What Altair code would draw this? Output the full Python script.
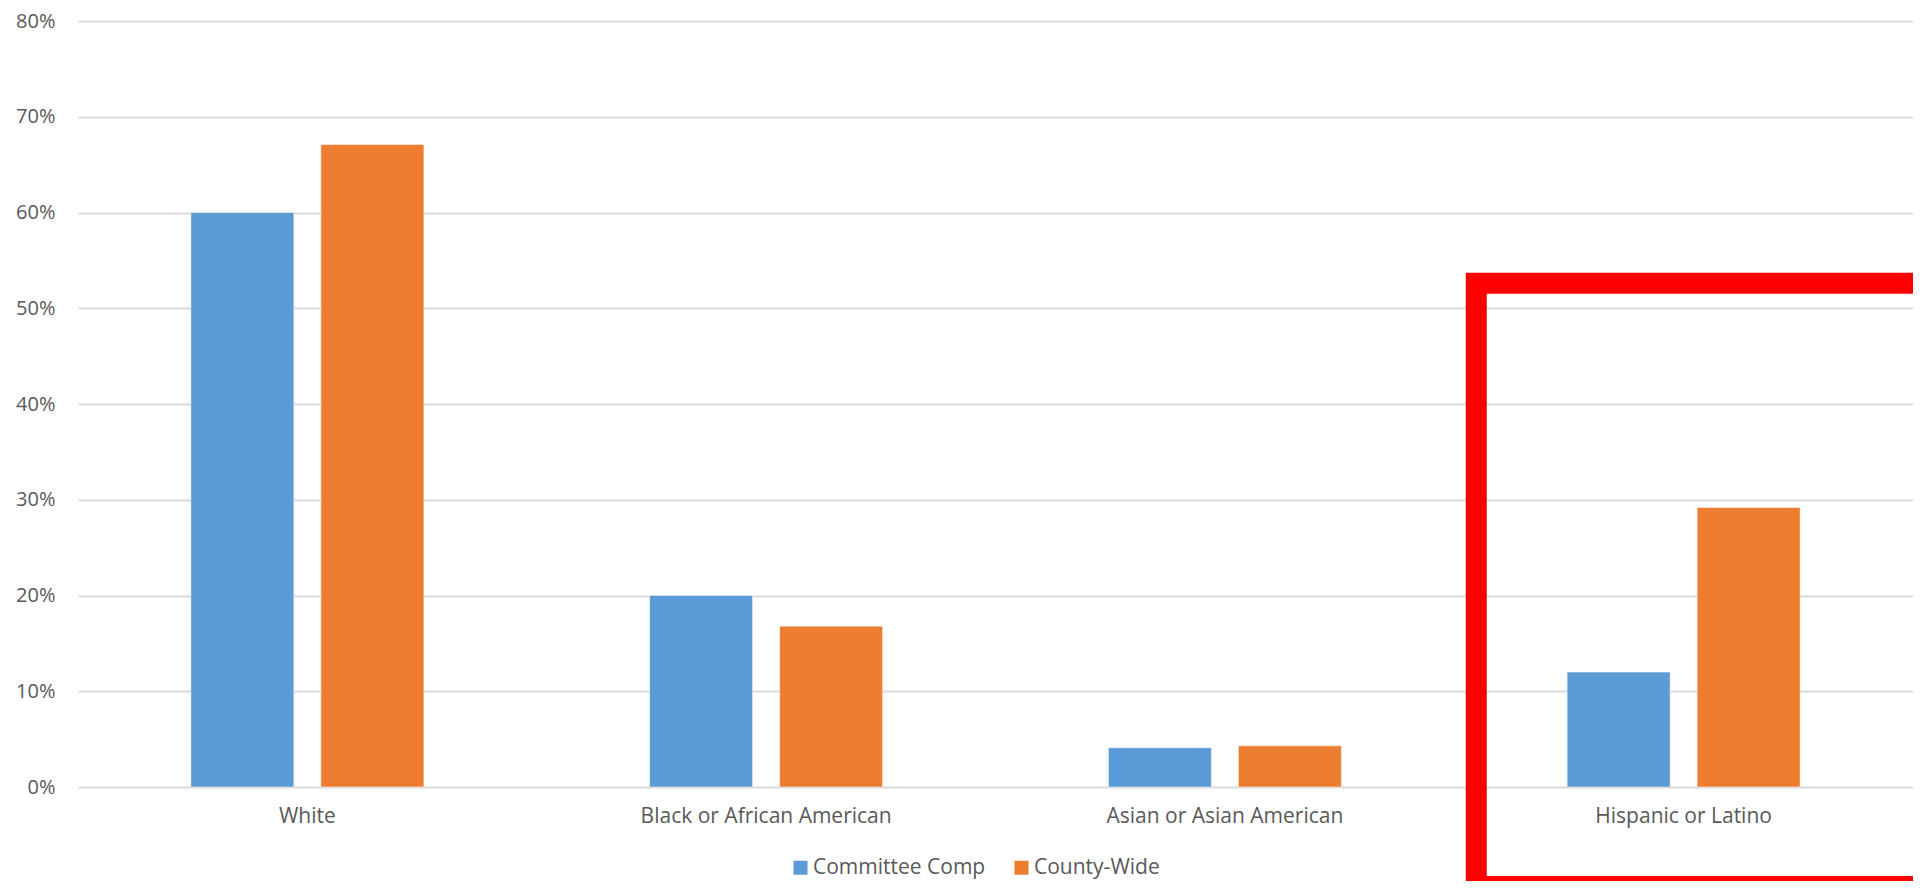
import altair as alt
import pandas as pd

categories = ["White", "Black or African American", "Asian or Asian American", "Hispanic or Latino"]
series = ["Committee Comp", "County-Wide"]
committee = [60.0, 20.0, 4.1, 12.0]
county = [67.1, 16.8, 4.3, 29.2]
colors = ["#5B9BD5", "#ED7D31"]
y_ticks = [0, 10, 20, 30, 40, 50, 60, 70, 80]

rows = []
for c, a, b in zip(categories, committee, county):
    rows.append({"cat": c, "series": series[0], "value": a})
    rows.append({"cat": c, "series": series[1], "value": b})
df = pd.DataFrame(rows)

# highlight box annotation around the last category (in data units of y)
box = pd.DataFrame([{"cat": "Hispanic or Latino", "top": 52.6, "bottom": -10.4}])

FONT = "Open Sans"
TXT = "#595959"

x_enc = alt.X("cat:N", sort=categories, title=None,
              scale=alt.Scale(paddingInner=0, paddingOuter=0),
              axis=alt.Axis(labelAngle=0, labelFontSize=21, labelColor=TXT, labelFont=FONT,
                            ticks=False, domain=False, labelPadding=18, labelLimit=0))
y_enc = alt.Y("value:Q", title=None,
              scale=alt.Scale(domain=[0, 80], nice=False),
              axis=alt.Axis(values=y_ticks, labelExpr="datum.value + '%'", labelFontSize=20,
                            labelColor=TXT, labelFont=FONT, ticks=False, domain=False,
                            labelPadding=23, gridColor="#D9D9D9", gridWidth=2, labelLimit=0))

bars = alt.Chart(df).mark_bar(stroke="#ffffff", strokeWidth=1, strokeOpacity=0.5).encode(
    x=x_enc,
    y=y_enc,
    xOffset=alt.XOffset("series:N", sort=series,
                        scale=alt.Scale(paddingInner=0.2077, paddingOuter=0.868)),
    color=alt.Color("series:N", sort=series,
                    scale=alt.Scale(domain=series, range=colors),
                    legend=alt.Legend(title=None, orient="none", legendX=712, legendY=836,
                                      direction="horizontal", symbolType="square",
                                      symbolSize=196, symbolStrokeWidth=0, labelFontSize=21,
                                      labelFont=FONT, labelColor=TXT, labelOffset=2,
                                      columnPadding=25, labelLimit=0)),
)

redbox = alt.Chart(box).mark_rect(fill=None, stroke="#FF0000", strokeWidth=21,
                                  clip=False, xOffset=22, x2Offset=7).encode(
    x=alt.X("cat:N", sort=categories),
    y=alt.Y("top:Q"),
    y2=alt.Y2("bottom:Q"),
)

chart = alt.layer(bars, redbox).properties(
    width=1835, height=766,
    padding={"left": 70, "top": 13, "right": 0, "bottom": 94},
    autosize=alt.AutoSizeParams(type="none"),
    background="#ffffff",
).configure_view(stroke=None)

chart.save("out.html", embed_options={"renderer": "svg", "actions": False})
